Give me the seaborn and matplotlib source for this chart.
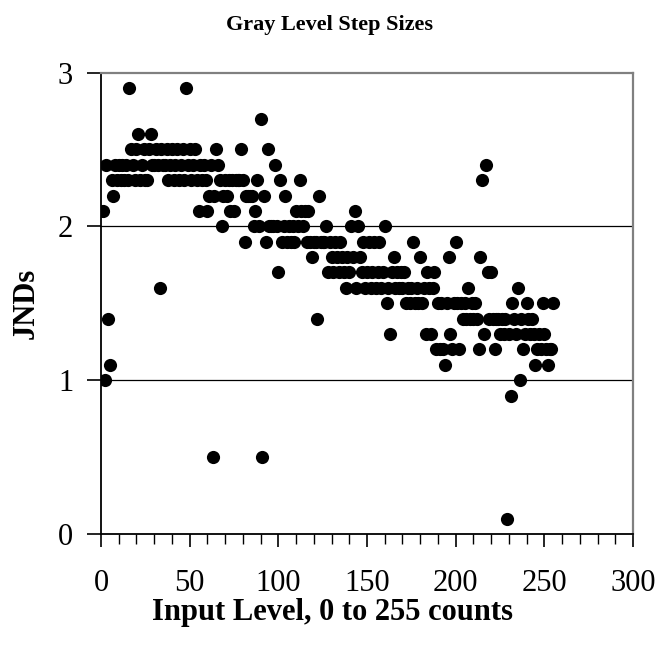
import matplotlib
matplotlib.use("Agg")
import matplotlib.pyplot as plt
import seaborn as sns
import pandas as pd
import numpy as np
from matplotlib.ticker import MultipleLocator

# Input levels (counts) and measured JND step sizes
input_level = list(range(1, 256))
jnds = [
    2.1, 1.0, 2.4, 1.4, 1.1, 2.3, 2.2, 2.4, 2.3, 2.4,
    2.3, 2.4, 2.3, 2.4, 2.3, 2.9, 2.5, 2.4, 2.3, 2.5,
    2.6, 2.3, 2.4, 2.5, 2.3, 2.3, 2.5, 2.6, 2.4, 2.4,
    2.5, 2.4, 1.6, 2.5, 2.4, 2.4, 2.5, 2.3, 2.4, 2.5,
    2.3, 2.4, 2.5, 2.3, 2.4, 2.5, 2.3, 2.9, 2.4, 2.5,
    2.3, 2.4, 2.5, 2.3, 2.1, 2.4, 2.3, 2.4, 2.3, 2.1,
    2.2, 2.4, 0.5, 2.2, 2.5, 2.4, 2.3, 2.0, 2.2, 2.3,
    2.2, 2.3, 2.1, 2.3, 2.1, 2.3, 2.3, 2.3, 2.5, 2.3,
    1.9, 2.2, 2.2, 2.2, 2.2, 2.0, 2.1, 2.3, 2.0, 2.7,
    0.5, 2.2, 1.9, 2.5, 2.0, 2.0, 2.0, 2.4, 2.0, 1.7,
    2.3, 1.9, 2.0, 2.2, 1.9, 2.0, 1.9, 2.0, 1.9, 2.1,
    2.0, 2.3, 2.1, 2.0, 2.1, 1.9, 2.1, 1.9, 1.8, 1.9,
    1.9, 1.4, 2.2, 1.9, 1.9, 1.9, 2.0, 1.7, 1.9, 1.8,
    1.7, 1.9, 1.8, 1.7, 1.9, 1.8, 1.7, 1.6, 1.8, 1.7,
    2.0, 1.8, 2.1, 1.6, 2.0, 1.8, 1.7, 1.9, 1.6, 1.7,
    1.9, 1.6, 1.7, 1.9, 1.6, 1.7, 1.9, 1.6, 1.7, 2.0,
    1.5, 1.6, 1.3, 1.7, 1.8, 1.6, 1.7, 1.6, 1.7, 1.6,
    1.7, 1.5, 1.6, 1.5, 1.6, 1.9, 1.5, 1.6, 1.5, 1.8,
    1.5, 1.6, 1.3, 1.7, 1.6, 1.3, 1.6, 1.7, 1.2, 1.5,
    1.2, 1.5, 1.2, 1.1, 1.5, 1.8, 1.3, 1.2, 1.5, 1.9,
    1.5, 1.2, 1.5, 1.4, 1.5, 1.4, 1.6, 1.4, 1.5, 1.4,
    1.5, 1.4, 1.2, 1.8, 2.3, 1.3, 2.4, 1.7, 1.4, 1.7,
    1.4, 1.2, 1.4, 1.4, 1.3, 1.4, 1.3, 1.4, 0.1, 1.3,
    0.9, 1.5, 1.4, 1.3, 1.6, 1.0, 1.4, 1.2, 1.3, 1.5,
    1.4, 1.3, 1.4, 1.3, 1.1, 1.2, 1.3, 1.2, 1.5, 1.3,
    1.2, 1.1, 1.2, 1.2, 1.5,
]
x_ticks = [0, 50, 100, 150, 200, 250, 300]
y_ticks = [0, 1, 2, 3]

df = pd.DataFrame({"level": input_level, "jnd": jnds})

sns.set_theme(style="white")
plt.rcParams["font.family"] = ["Liberation Serif", "DejaVu Serif"]
plt.rcParams["text.color"] = "black"
plt.rcParams["axes.labelcolor"] = "black"
plt.rcParams["xtick.color"] = "black"
plt.rcParams["ytick.color"] = "black"

fig = plt.figure(figsize=(6.59, 6.54), dpi=100)
ax = fig.add_axes([101 / 659, 1 - 534 / 654, (633 - 101) / 659, (534 - 72.5) / 654])

for yv in [1, 2]:
    ax.axhline(yv, color="black", lw=0.9, zorder=1)

sns.scatterplot(data=df, x="level", y="jnd", ax=ax, color="black",
                s=90, edgecolor="black", linewidth=0, zorder=3, legend=False)

ax.set_xlim(0, 300)
ax.set_ylim(0, 3)
ax.set_xticks(x_ticks)
ax.set_yticks(y_ticks)
ax.xaxis.set_minor_locator(MultipleLocator(10))
ax.tick_params(axis="x", which="major", direction="out", length=9, width=1.2,
               color="black", labelsize=22, pad=16, bottom=True)
ax.tick_params(axis="x", which="minor", direction="out", length=7, width=1.0,
               color="black", bottom=True)
ax.tick_params(axis="y", which="major", direction="out", length=10, width=1.2,
               color="black", labelsize=22, pad=10, left=True)

for side in ["left", "bottom"]:
    ax.spines[side].set_color("black")
    ax.spines[side].set_linewidth(1.3)
for side in ["top", "right"]:
    ax.spines[side].set_color("#808080")
    ax.spines[side].set_linewidth(1.6)

ax.set_xlabel("")
ax.set_ylabel("")
fig.text(0.5, 1 - 30 / 654, "Gray Level Step Sizes", ha="center", va="baseline",
         fontsize=16, fontweight="bold")
fig.text(0.505, 1 - 620 / 654, "Input Level, 0 to 255 counts", ha="center",
         va="baseline", fontsize=22, fontweight="bold")
fig.text(26 / 659, 1 - 303 / 654, "JNDs", ha="center", va="center",
         rotation=90, fontsize=22, fontweight="bold")

fig.savefig("out.png", dpi=100, facecolor="white")
